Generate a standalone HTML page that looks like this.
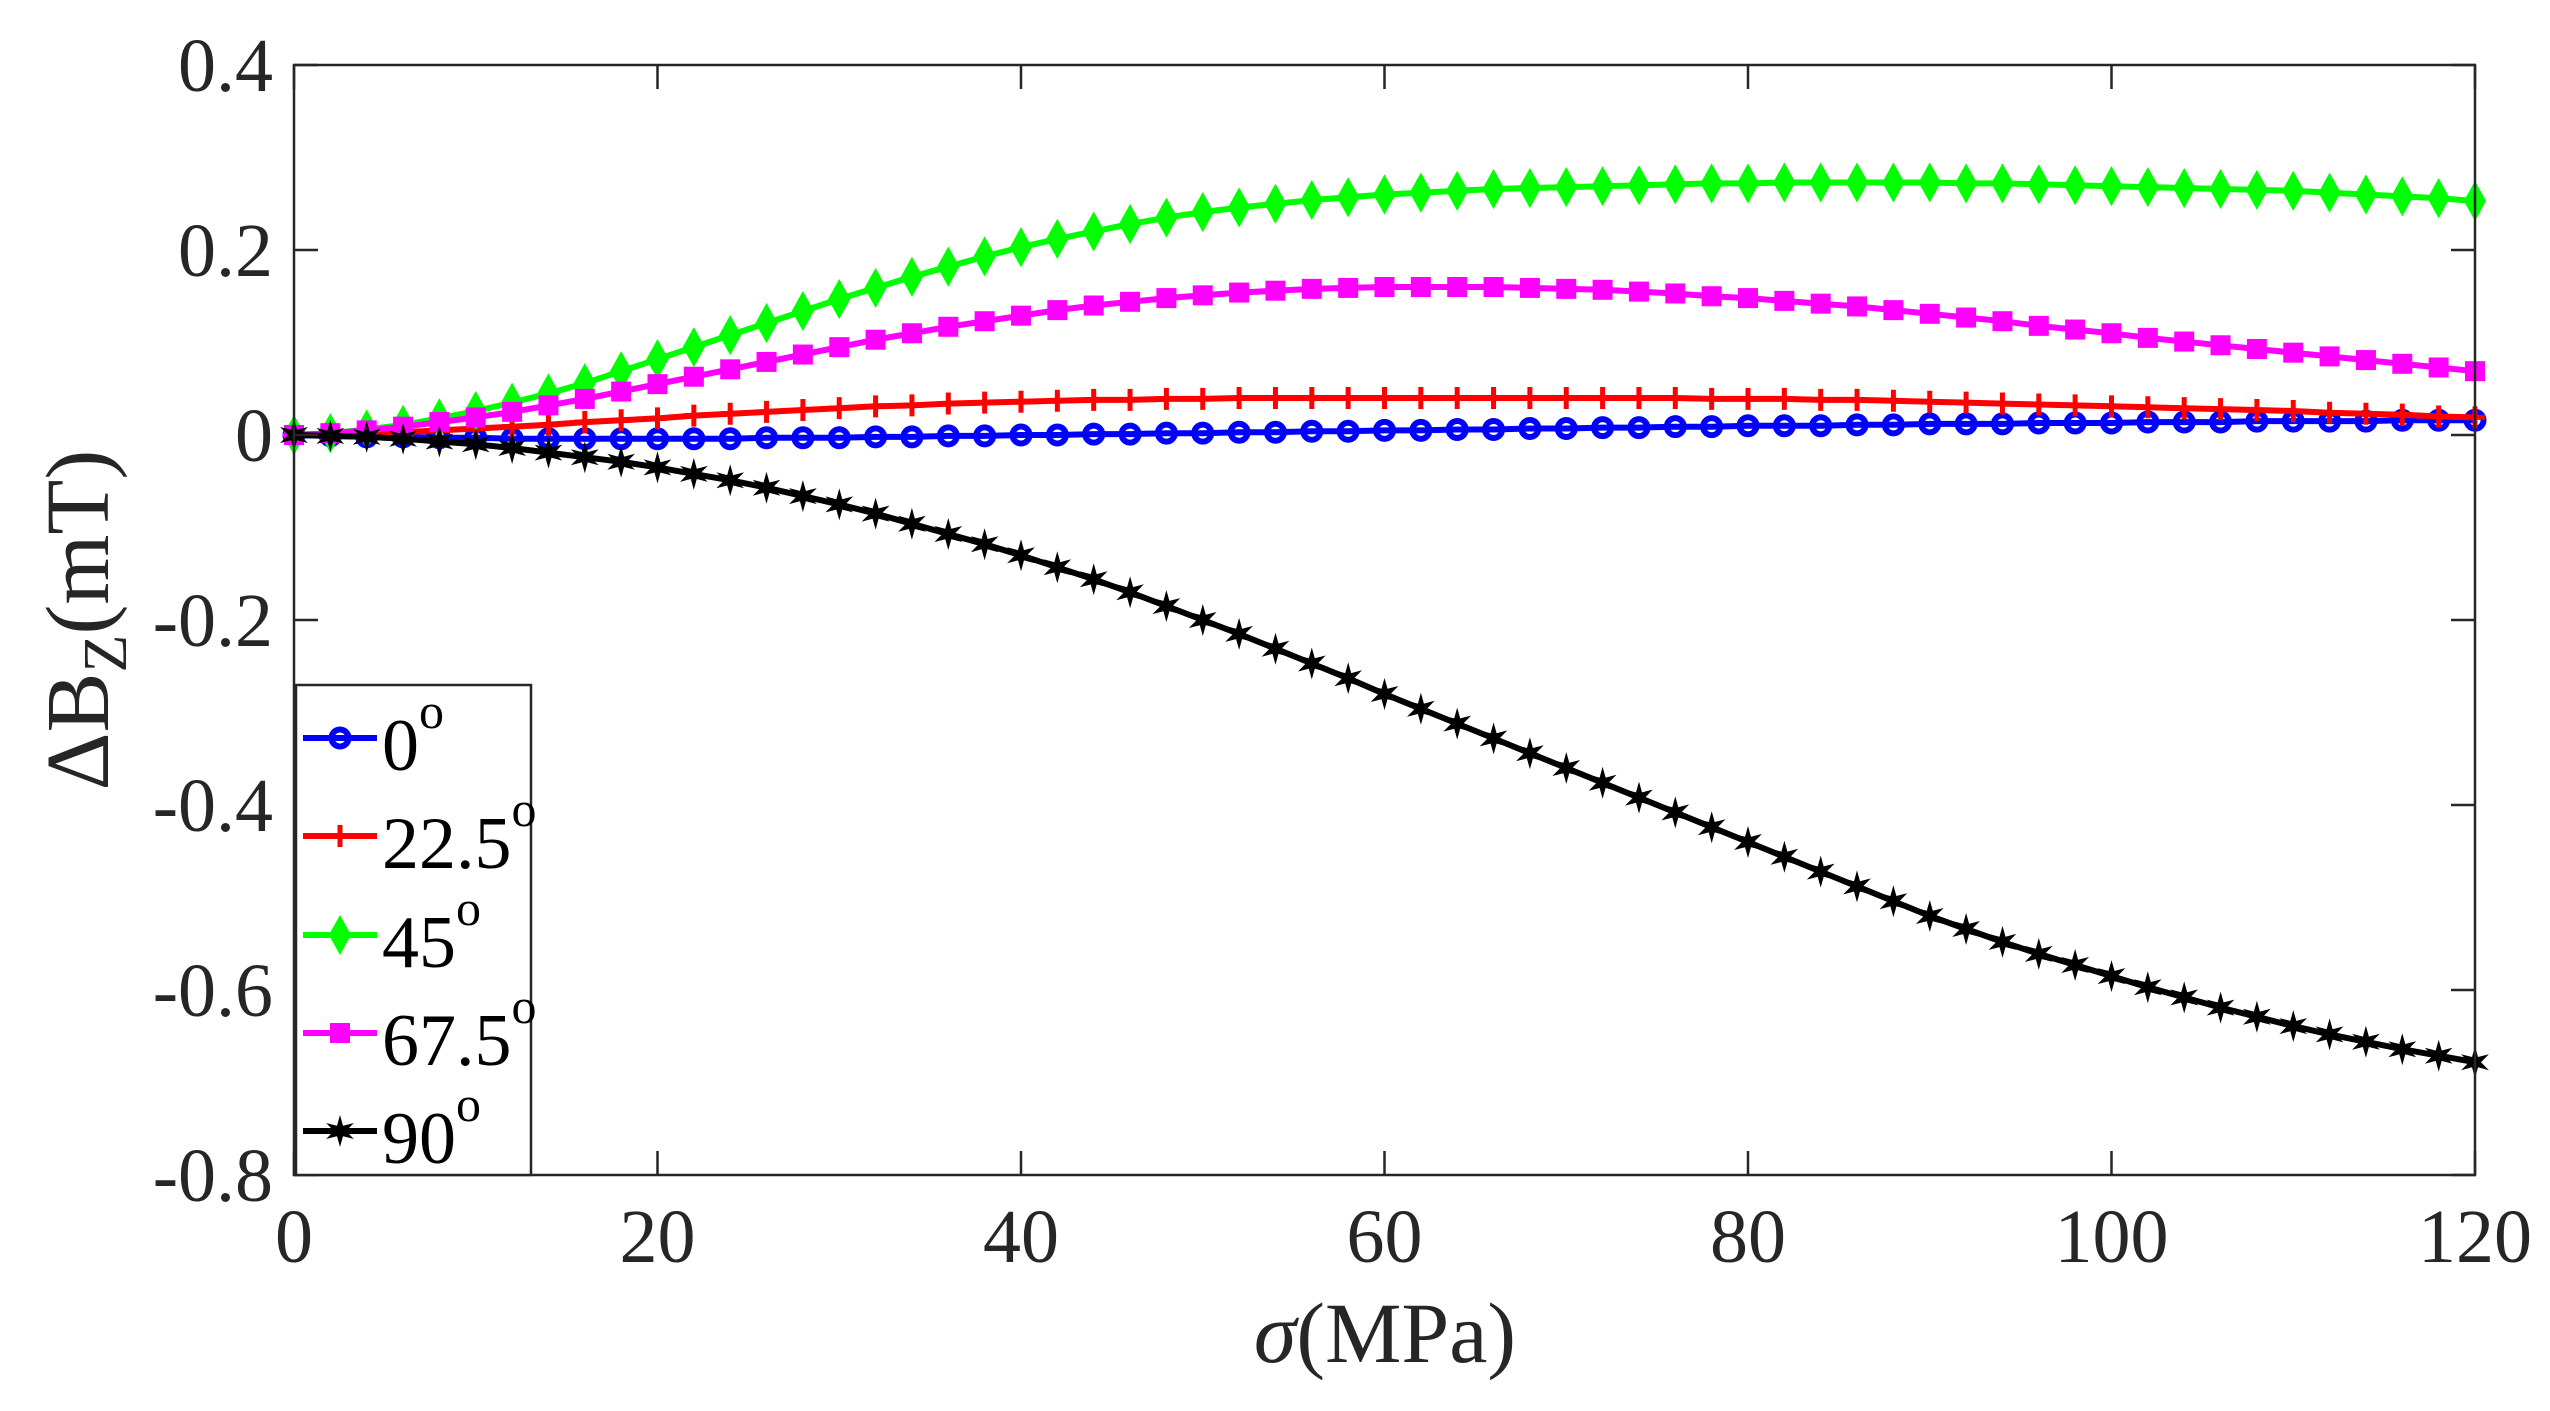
<!DOCTYPE html>
<html><head><meta charset="utf-8"><style>
html,body{margin:0;padding:0;background:#fff;}
svg, svg text{font-family:"Liberation Serif","Times New Roman",serif;}
svg{display:block;}
</style></head><body>
<svg id="chart" width="2550" height="1411" viewBox="0 0 2550 1411" xmlns="http://www.w3.org/2000/svg" font-family="Liberation Serif, serif">
<rect x="0" y="0" width="2550" height="1411" fill="#fff"/>
<g id="plot"></g>
<g id="axes"></g>
<text x="1385" y="1362" font-size="86" text-anchor="middle" fill="#262626" font-family="Liberation Serif, serif"><tspan font-style="italic">σ</tspan>(MPa)</text>
<text transform="translate(108,620) rotate(-90)" font-size="90" text-anchor="middle" fill="#262626" font-family="Liberation Serif, serif">ΔB<tspan font-size="62" dy="18">Z</tspan><tspan dy="-18">(mT)</tspan></text>
<g id="legend"></g>
</svg>
<script>
const xTicks=[0,20,40,60,80,100,120];
const yTicks=[0.4,0.2,0,-0.2,-0.4,-0.6,-0.8];
const yTickLabels=["0.4","0.2","0","-0.2","-0.4","-0.6","-0.8"];
const sigma=[0,2,4,6,8,10,12,14,16,18,20,22,24,26,28,30,32,34,36,38,40,42,44,46,48,50,52,54,56,58,60,62,64,66,68,70,72,74,76,78,80,82,84,86,88,90,92,94,96,98,100,102,104,106,108,110,112,114,116,118,120];
const s0=[0,-0.001,-0.002,-0.002,-0.003,-0.003,-0.004,-0.004,-0.004,-0.004,-0.004,-0.004,-0.004,-0.003,-0.003,-0.003,-0.002,-0.002,-0.001,-0.001,0,0,0.001,0.001,0.002,0.002,0.003,0.003,0.004,0.004,0.005,0.005,0.006,0.006,0.007,0.007,0.008,0.008,0.009,0.009,0.010,0.010,0.010,0.011,0.011,0.012,0.012,0.012,0.013,0.013,0.013,0.014,0.014,0.014,0.015,0.015,0.015,0.015,0.016,0.016,0.016];
const s225=[0,0.001,0.002,0.003,0.005,0.007,0.009,0.011,0.014,0.016,0.018,0.021,0.023,0.025,0.027,0.029,0.031,0.032,0.034,0.035,0.036,0.037,0.038,0.038,0.039,0.039,0.040,0.040,0.040,0.040,0.040,0.040,0.040,0.040,0.040,0.040,0.040,0.040,0.040,0.039,0.039,0.039,0.038,0.038,0.037,0.036,0.035,0.034,0.033,0.032,0.031,0.030,0.029,0.028,0.027,0.026,0.024,0.023,0.022,0.020,0.019];
const s45=[0,0.002,0.006,0.011,0.018,0.026,0.035,0.045,0.056,0.069,0.082,0.095,0.108,0.121,0.134,0.147,0.159,0.171,0.182,0.193,0.203,0.212,0.220,0.228,0.235,0.241,0.246,0.250,0.254,0.257,0.260,0.262,0.264,0.266,0.267,0.268,0.269,0.270,0.271,0.272,0.272,0.273,0.273,0.273,0.273,0.273,0.272,0.272,0.271,0.270,0.269,0.268,0.267,0.266,0.265,0.264,0.262,0.260,0.258,0.256,0.253];
const s675=[0,0.002,0.005,0.009,0.014,0.019,0.025,0.032,0.039,0.047,0.055,0.063,0.071,0.079,0.087,0.095,0.103,0.110,0.117,0.123,0.129,0.135,0.140,0.144,0.148,0.151,0.154,0.156,0.158,0.159,0.160,0.160,0.160,0.160,0.159,0.158,0.157,0.155,0.153,0.150,0.148,0.145,0.142,0.139,0.135,0.131,0.127,0.123,0.118,0.114,0.110,0.105,0.101,0.097,0.093,0.089,0.085,0.081,0.077,0.073,0.069];
const s90=[0,-0.001,-0.002,-0.004,-0.007,-0.010,-0.014,-0.019,-0.024,-0.029,-0.035,-0.042,-0.049,-0.057,-0.066,-0.075,-0.085,-0.096,-0.107,-0.118,-0.130,-0.143,-0.156,-0.170,-0.185,-0.200,-0.215,-0.231,-0.247,-0.263,-0.280,-0.296,-0.312,-0.328,-0.344,-0.360,-0.376,-0.392,-0.408,-0.424,-0.440,-0.456,-0.472,-0.488,-0.504,-0.520,-0.534,-0.548,-0.561,-0.573,-0.585,-0.597,-0.608,-0.619,-0.629,-0.639,-0.648,-0.656,-0.664,-0.671,-0.678];
const seriesNames=["0","22.5","45","67.5","90"];

const L=294,R=2475,T=65,B=1175;
const X0=0,X1=120,Y0=-0.8,Y1=0.4;
const sx=v=>L+(v-X0)/(X1-X0)*(R-L);
const sy=v=>B-(v-Y0)/(Y1-Y0)*(B-T);
const NS="http://www.w3.org/2000/svg";
function mk(tag,attrs,parent){const e=document.createElementNS(NS,tag);for(const k in attrs)e.setAttribute(k,attrs[k]);parent.appendChild(e);return e;}

function marker(kind,x,y,color,g){
  let e;
  if(kind==="circle"){e=mk("circle",{cx:x,cy:y,r:8.5,fill:"none",stroke:color,"stroke-width":6},g);}
  else if(kind==="plus"){e=mk("path",{d:`M${x-10},${y}H${x+10}M${x},${y-11}V${y+11}`,stroke:color,"stroke-width":5,fill:"none"},g);}
  else if(kind==="diamond"){e=mk("path",{d:`M${x},${y-18}L${x+10},${y}L${x},${y+18}L${x-10},${y}Z`,fill:color,stroke:color,"stroke-width":2},g);}
  else if(kind==="square"){e=mk("rect",{x:x-10,y:y-10,width:20,height:20,fill:color},g);}
  else {let p="";for(let i=0;i<12;i++){const a=-Math.PI/2+i*Math.PI/6;const r=i%2?6:16;p+=(i?"L":"M")+(x+r*Math.cos(a)).toFixed(1)+","+(y+r*Math.sin(a)).toFixed(1);}e=mk("path",{d:p+"Z",fill:color},g);}
  return e;
}

const plot=document.getElementById("plot");
const seriesData=[s0,s225,s45,s675,s90];
const colors=["#0000ff","#ff0000","#00ff00","#ff00ff","#000000"];
const kinds=["circle","plus","diamond","square","star"];
seriesData.forEach((vals,si)=>{
  const g=mk("g",{},plot);
  
  
  const d=vals.map((v,i)=>(i?"L":"M")+sx(sigma[i]).toFixed(1)+","+sy(v).toFixed(1)).join("");
  const ln=mk("path",{d:d,fill:"none",stroke:colors[si],"stroke-width":6,"stroke-linejoin":"round"},g);
  
  
  vals.forEach((v,i)=>{
    const m=marker(kinds[si],sx(sigma[i]),sy(v),colors[si],g);
    
    
  });
});

const axes=document.getElementById("axes");
const frame=mk("rect",{x:L,y:T,width:R-L,height:B-T,fill:"none",stroke:"#262626","stroke-width":2.5},axes);


xTicks.forEach(v=>{
  const x=sx(v);
  mk("path",{d:`M${x},${B}V${B-24}M${x},${T}V${T+24}`,stroke:"#262626","stroke-width":2.5},axes);
  const t=mk("text",{x:x,y:1262,"font-size":76,"text-anchor":"middle",fill:"#262626","font-family":"Liberation Serif, serif"},axes);
  t.textContent=String(v);
  
  
});
yTicks.forEach((v,i)=>{
  const y=sy(v);
  mk("path",{d:`M${L},${y}H${L+24}M${R},${y}H${R-24}`,stroke:"#262626","stroke-width":2.5},axes);
  const t=mk("text",{x:273,y:y+26,"font-size":76,"text-anchor":"end",fill:"#262626","font-family":"Liberation Serif, serif"},axes);
  t.textContent=yTickLabels[i];
  
  
});

const leg=document.getElementById("legend");


mk("rect",{x:296,y:685,width:235,height:490,fill:"#fff",stroke:"#262626","stroke-width":2.5},leg);
const legY=[738,836,935,1033,1131];
seriesNames.forEach((n,i)=>{
  const g=mk("g",{},leg);
  
  
  const y=legY[i];
  mk("line",{x1:303,y1:y,x2:377,y2:y,stroke:colors[i],"stroke-width":6},g);
  marker(kinds[i],340,y,colors[i],g);
  const t=mk("text",{x:382,y:y+32,"font-size":74,fill:"#000","font-family":"Liberation Serif, serif"},g);
  t.textContent=n;
  const s=mk("tspan",{"font-size":50,dy:-42},t);
  s.textContent="o";
});
</script>
</body></html>
